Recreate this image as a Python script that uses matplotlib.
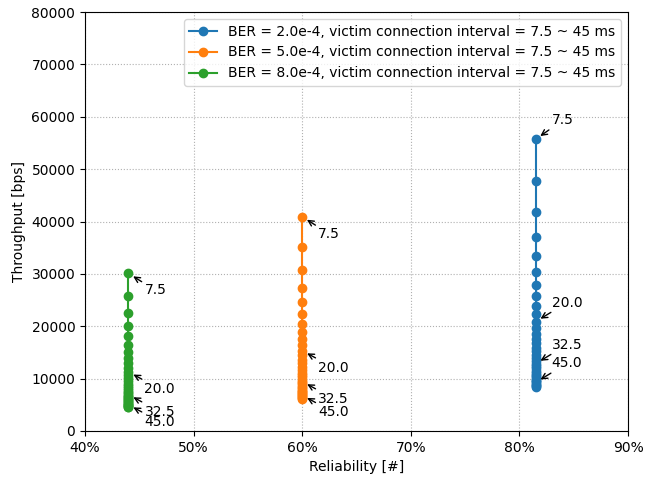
import matplotlib
matplotlib.use('Agg')
import matplotlib.pyplot as plt
from matplotlib.ticker import PercentFormatter

# victim connection interval [ms]
intervals = [7.5, 8.75, 10.0, 11.25, 12.5, 13.75, 15.0, 16.25, 17.5, 18.75,
             20.0, 21.25, 22.5, 23.75, 25.0, 26.25, 27.5, 28.75, 30.0, 31.25,
             32.5, 33.75, 35.0, 36.25, 37.5, 38.75, 40.0, 41.25, 42.5, 43.75,
             45.0, 46.25, 47.5, 48.75, 50.0]

# reliability [%] per BER
rel_ber2 = 81.5
rel_ber5 = 60.0
rel_ber8 = 44.0

# throughput [bps]
tp_ber2 = [55700, 47743, 41775, 37133, 33420, 30382, 27850, 25708, 23871, 22280,
           20888, 19659, 18567, 17589, 16710, 15914, 15191, 14530, 13925, 13368,
           12854, 12378, 11936, 11524, 11140, 10781, 10444, 10127, 9829, 9549,
           9283, 9032, 8795, 8569, 8355]
tp_ber5 = [40900, 35057, 30675, 27267, 24540, 22309, 20450, 18877, 17529, 16360,
           15338, 14435, 13633, 12916, 12270, 11686, 11155, 10670, 10225, 9816,
           9438, 9089, 8764, 8462, 8180, 7916, 7669, 7436, 7218, 7011,
           6817, 6632, 6458, 6292, 6135]
tp_ber8 = [30100, 25800, 22575, 20067, 18060, 16418, 15050, 13892, 12900, 12040,
           11288, 10624, 10033, 9505, 9030, 8600, 8209, 7852, 7525, 7224,
           6946, 6689, 6450, 6228, 6020, 5826, 5644, 5473, 5312, 5160,
           5017, 4881, 4753, 4631, 4515]

labels = ['BER = 2.0e-4, victim connection interval = 7.5 ~ 45 ms',
          'BER = 5.0e-4, victim connection interval = 7.5 ~ 45 ms',
          'BER = 8.0e-4, victim connection interval = 7.5 ~ 45 ms']

annot_idx = [0, 10, 20, 30]

fig = plt.figure(figsize=(6.45, 4.79), dpi=100)
ax = fig.add_axes([85 / 645, 1 - 431 / 479, 543 / 645, 419 / 479])

series = [(rel_ber2, tp_ber2, (16, 19)),
          (rel_ber5, tp_ber5, (16, -17)),
          (rel_ber8, tp_ber8, (16, -17))]

for (rel, tp, off), label in zip(series, labels):
    ax.plot([rel] * len(tp), tp, marker='o', linestyle='-', label=label)
    for i in annot_idx:
        ax.annotate('%.1f' % intervals[i], xy=(rel, tp[i]),
                    xytext=off, textcoords='offset pixels',
                    ha='left', va='center', fontsize=10,
                    arrowprops=dict(arrowstyle='->', color='black',
                                    shrinkA=0, shrinkB=4))

ax.set_xlim(40, 90)
ax.set_ylim(0, 80000)
ax.xaxis.set_major_formatter(PercentFormatter(decimals=0))
ax.set_xlabel('Reliability [#]')
ax.set_ylabel('Throughput [bps]')
ax.grid(True, linestyle=':')
ax.legend(loc='upper right')

fig.savefig('out.png', dpi=100)
